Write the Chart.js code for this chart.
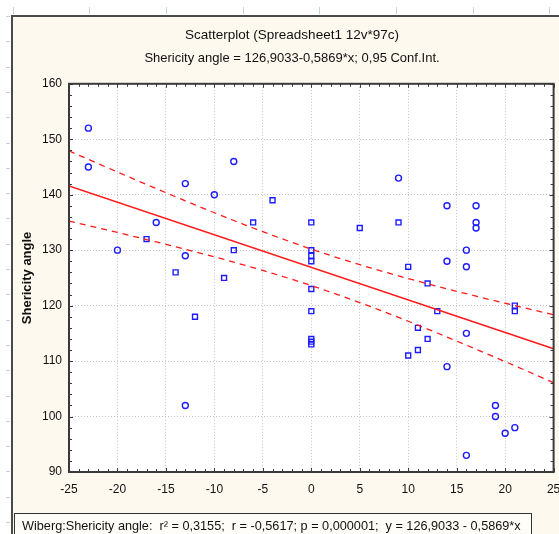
<!DOCTYPE html>
<html>
<head>
<meta charset="utf-8">
<script src="https://cdn.jsdelivr.net/npm/chart.js@4"></script>
<style>
  html, body { margin: 0; padding: 0; background: #fff; }
</style>
</head>
<body>
<canvas id="chart" width="559" height="534"></canvas>
<script>
// cases plotted with the circle marker
const circleX = [-23, -23, -20, -16, -13, -13, -10, -8, -13, 9, 14, 17, 17, 17, 14, 16, 16, 16, 14, 19, 19, 20, 21, 16];
const circleY = [152, 145, 130, 135, 142, 129, 140, 146, 102, 143, 138, 138, 135, 134, 128, 130, 127, 115, 109, 102, 100, 97, 98, 93];

// cases plotted with the square marker
const squareX = [-17, -14, -12, -9, -8, -6, -4, 0, 0, 0, 0, 0, 0, 0, 0, 0, 5, 9, 10, 10, 11, 11, 12, 12, 13, 21, 21];
const squareY = [132, 126, 118, 125, 130, 135, 139, 135, 130, 129, 128, 123, 119, 114, 113.5, 113, 134, 135, 127, 111, 116, 112, 124, 114, 119, 120, 119];

// axis limits
const xRange = [-25, 25];
const yRange = [90, 160];

// regression y = a + b*x and the numbers behind its 0,95 band
const intercept = 126.9033;
const slope = -0.5869;
const nCases = 70;
const meanX = 0.56;
const sxx = 16960;
const residSD = 13.8;
const tCrit = 1.995;

const FONT = 'Liberation Sans, Arial, sans-serif';

function fitAt(x) { return intercept + slope * x; }
function bandAt(x) {
  return tCrit * residSD * Math.sqrt(1 / nCases + (x - meanX) ** 2 / sxx);
}

const fitLine = xRange.map(x => ({ x, y: fitAt(x) }));
const upperBand = [];
const lowerBand = [];
for (let x = xRange[0]; x <= xRange[1]; x += 1) {
  upperBand.push({ x, y: fitAt(x) + bandAt(x) });
  lowerBand.push({ x, y: fitAt(x) - bandAt(x) });
}

// window ruler, cream panel and white plot background
const panelPlugin = {
  id: 'panel',
  beforeDraw(chart) {
    const { ctx, width, height, chartArea: a } = chart;
    ctx.save();
    ctx.fillStyle = '#fff';
    ctx.fillRect(0, 0, width, height);

    ctx.strokeStyle = '#c9cfe2';
    ctx.lineWidth = 1;
    ctx.beginPath();
    for (let x = 12.5; x < width; x += 76.7) {
      ctx.moveTo(Math.round(x) + 0.5, 7);
      ctx.lineTo(Math.round(x) + 0.5, 14);
    }
    for (let y = 16; y < height; y += 25.3) {
      ctx.moveTo(6, Math.round(y) + 0.5);
      ctx.lineTo(10, Math.round(y) + 0.5);
    }
    ctx.stroke();

    ctx.fillStyle = '#fef9ee';
    ctx.fillRect(11, 15, width, height);
    ctx.strokeStyle = '#4a4a4a';
    ctx.lineWidth = 2;
    ctx.beginPath();
    ctx.moveTo(12, height);
    ctx.lineTo(12, 16);
    ctx.lineTo(width, 16);
    ctx.stroke();

    ctx.fillStyle = '#fff';
    ctx.fillRect(a.left, a.top, a.right - a.left, a.bottom - a.top);
    ctx.restore();
  }
};

// plot frame with inner ticks, plus the statistics box underneath
const framePlugin = {
  id: 'frame',
  afterDraw(chart) {
    const { ctx, chartArea: a, scales } = chart;
    const xs = scales.x, ys = scales.y;
    ctx.save();
    ctx.strokeStyle = '#3a3a3a';
    ctx.lineWidth = 1;
    ctx.beginPath();
    for (let v = xRange[0]; v <= xRange[1]; v += 1) {
      const px = Math.round(xs.getPixelForValue(v)) + 0.5;
      const len = v % 5 === 0 ? 4 : 3;
      ctx.moveTo(px, a.bottom); ctx.lineTo(px, a.bottom - len);
      ctx.moveTo(px, a.top); ctx.lineTo(px, a.top + len);
    }
    for (let v = yRange[0]; v <= yRange[1]; v += 2) {
      const py = Math.round(ys.getPixelForValue(v)) + 0.5;
      const len = v % 10 === 0 ? 4 : 3;
      ctx.moveTo(a.left, py); ctx.lineTo(a.left + len, py);
      ctx.moveTo(a.right, py); ctx.lineTo(a.right - len, py);
    }
    ctx.stroke();

    ctx.lineWidth = 2;
    ctx.strokeRect(a.left, a.top, a.right - a.left, a.bottom - a.top);

    // stats box
    ctx.fillStyle = '#fffdf8';
    ctx.fillRect(14.5, 513.5, 517, 30);
    ctx.lineWidth = 1;
    ctx.strokeStyle = '#333';
    ctx.strokeRect(14.5, 513.5, 517, 30);
    ctx.fillStyle = '#111';
    ctx.font = '12.7px ' + FONT;
    ctx.textBaseline = 'middle';
    ctx.fillText('Wiberg:Shericity angle:  r\u00B2 = 0,3155;  r = -0,5617; p = 0,000001;  y = 126,9033 - 0,5869*x', 22, 526);
    ctx.restore();
  }
};

new Chart(document.getElementById('chart').getContext('2d'), {
  type: 'scatter',
  data: {
    datasets: [
      {
        data: fitLine, showLine: true, pointRadius: 0,
        borderColor: '#ff1a1a', borderWidth: 1.5, order: 0
      },
      {
        data: upperBand, showLine: true, pointRadius: 0,
        borderColor: '#ff1a1a', borderWidth: 1.3, borderDash: [6, 5], order: 0
      },
      {
        data: lowerBand, showLine: true, pointRadius: 0,
        borderColor: '#ff1a1a', borderWidth: 1.3, borderDash: [6, 5], order: 0
      },
      {
        data: circleX.map((x, i) => ({ x, y: circleY[i] })),
        pointStyle: 'circle', pointRadius: 3,
        borderColor: '#1c1cff', backgroundColor: 'rgba(0,0,0,0)', borderWidth: 1.4, order: 1
      },
      {
        data: squareX.map((x, i) => ({ x, y: squareY[i] })),
        pointStyle: 'rect', pointRadius: 3.5,
        borderColor: '#1c1cff', backgroundColor: 'rgba(0,0,0,0)', borderWidth: 1.4, order: 1
      }
    ]
  },
  options: {
    responsive: false,
    animation: false,
    layout: { padding: { left: 29, right: 4, top: 0, bottom: 34 } },
    plugins: {
      legend: { display: false },
      tooltip: { enabled: false },
      title: {
        display: true,
        text: 'Scatterplot (Spreadsheet1 12v*97c)',
        color: '#111',
        font: { family: FONT, size: 13.5, weight: 'normal' },
        padding: { top: 27, bottom: 4 }
      },
      subtitle: {
        display: true,
        text: 'Shericity angle = 126,9033-0,5869*x; 0,95 Conf.Int.',
        color: '#111',
        font: { family: FONT, size: 13, weight: 'normal' },
        padding: { top: 3, bottom: 18 }
      }
    },
    scales: {
      x: {
        type: 'linear',
        min: xRange[0], max: xRange[1],
        grid: { color: '#c4c4c4', lineWidth: 1, drawTicks: false },
        border: { display: false, dash: [1, 2] },
        ticks: {
          stepSize: 5, maxRotation: 0, autoSkip: false, padding: 10,
          color: '#111', font: { family: FONT, size: 12 }
        },
        afterFit(scale) {
          scale.height = 28;
          scale.paddingLeft = 0;
          scale.paddingRight = 0;
        }
      },
      y: {
        type: 'linear',
        min: yRange[0], max: yRange[1],
        grid: { color: '#c4c4c4', lineWidth: 1, drawTicks: false },
        border: { display: false, dash: [1, 2] },
        ticks: {
          stepSize: 10, padding: 7,
          color: '#111', font: { family: FONT, size: 12 }
        },
        title: {
          display: true,
          text: 'Shericity angle',
          color: '#111',
          font: { family: FONT, size: 13, weight: 'bold' },
          padding: { top: -9, bottom: 0 }
        },
        afterFit(scale) {
          scale.width = 40;
          scale.paddingTop = 0;
          scale.paddingBottom = 0;
        }
      }
    }
  },
  plugins: [panelPlugin, framePlugin]
});
</script>
</body>
</html>
